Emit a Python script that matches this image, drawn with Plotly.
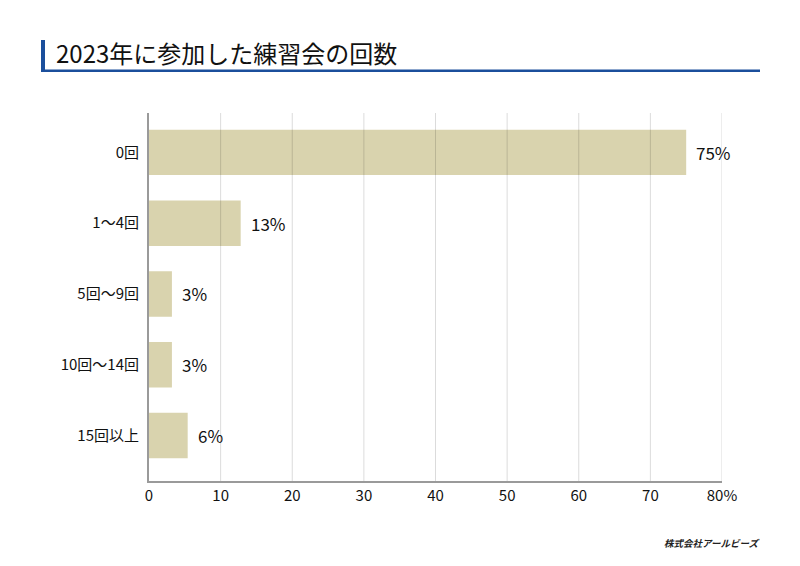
import plotly.graph_objects as go

categories = ["0回", "1～4回", "5回～9回", "10回～14回", "15回以上"]
values = [75.0, 12.8, 3.2, 3.2, 5.4]
value_labels = ["75%", "13%", "3%", "3%", "6%"]
tick_vals = [0, 10, 20, 30, 40, 50, 60, 70, 80]
tick_text = ["0", "10", "20", "30", "40", "50", "60", "70", "80%"]
title_text = "2023年に参加した練習会の回数"
credit_text = "株式会社アールビーズ"

FONT = "Noto Sans CJK JP"
BAR = "#d9d3ae"
BLUE = "#1b4f9c"
TXT = "#111111"

L, R, T, B = 149, 78, 113, 85
W, H = 800, 566
pw, ph = W - L - R, H - T - B

def px2paper_x(px):
    return (px - L) / pw

def px2paper_y(py):
    return (H - py - B) / ph

fig = go.Figure()
fig.add_trace(go.Bar(
    y=list(range(len(categories))), x=values, orientation="h",
    marker=dict(color=BAR, line=dict(width=0)), width=0.64,
    hoverinfo="skip", showlegend=False,
))

annotations = []
for i, (v, t) in enumerate(zip(values, value_labels)):
    annotations.append(dict(x=v, y=i, xref="x", yref="y", text=t, showarrow=False,
                            xanchor="left", yanchor="middle", xshift=8,
                            font=dict(family=FONT, size=17, color=TXT)))

annotations.append(dict(x=px2paper_x(54), y=px2paper_y(53), xref="paper", yref="paper",
                        text=title_text, showarrow=False, xanchor="left", yanchor="middle",
                        font=dict(family=FONT, size=24, color=TXT)))
annotations.append(dict(x=px2paper_x(761), y=px2paper_y(543), xref="paper", yref="paper",
                        text="<i>" + credit_text + "</i>",
                        showarrow=False, xanchor="right", yanchor="middle",
                        font=dict(family=FONT, size=9.5, color="#222222", weight=700)))

shapes = []
for tv in tick_vals[1:]:
    shapes.append(dict(type="line", xref="x", yref="paper", x0=tv, x1=tv, y0=0, y1=1,
                       line=dict(color="rgba(0,0,0,0.14)", width=1), layer="above"))
shapes.append(dict(type="rect", xref="paper", yref="paper",
                   x0=px2paper_x(41), x1=px2paper_x(45), y0=px2paper_y(72), y1=px2paper_y(40),
                   fillcolor=BLUE, line=dict(width=0)))
shapes.append(dict(type="rect", xref="paper", yref="paper",
                   x0=px2paper_x(41), x1=px2paper_x(760), y0=px2paper_y(72), y1=px2paper_y(69.5),
                   fillcolor=BLUE, line=dict(width=0)))

fig.update_layout(
    width=W, height=H,
    margin=dict(l=L, r=R, t=T, b=B, pad=0),
    paper_bgcolor="white", plot_bgcolor="white",
    font=dict(family=FONT, size=14, color=TXT),
    xaxis=dict(range=[0, 80], tickvals=tick_vals, ticktext=tick_text, showgrid=False,
               zeroline=False, showline=True, linecolor="#9a9a9a", linewidth=2,
               ticks="", tickfont=dict(family=FONT, size=15, color=TXT),
               fixedrange=True),
    yaxis=dict(range=[4.643, -0.558], tickvals=list(range(len(categories))),
               ticktext=categories, showgrid=False, zeroline=False, showline=True,
               linecolor="#9a9a9a", linewidth=2, ticks="outside", ticklen=5,
               tickcolor="rgba(0,0,0,0)", tickfont=dict(family=FONT, size=15, color=TXT),
               fixedrange=True),
    annotations=annotations,
    shapes=shapes,
)

fig.write_html("out.html")
